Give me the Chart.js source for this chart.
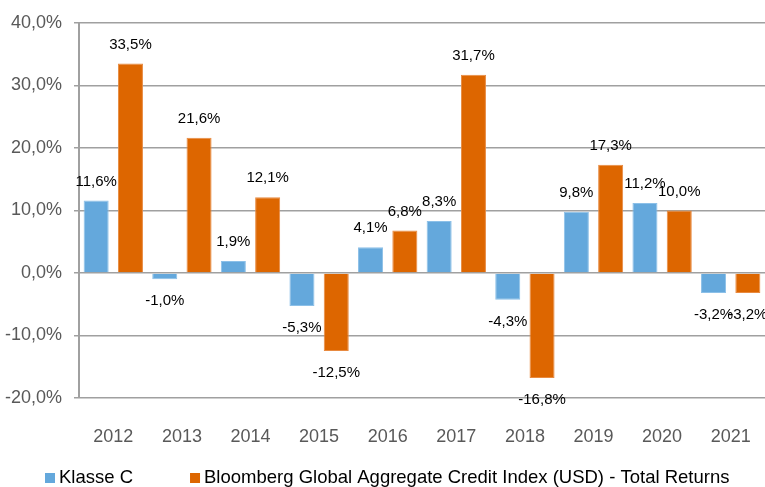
<!DOCTYPE html>
<html>
<head>
<meta charset="utf-8">
<script src="https://cdn.jsdelivr.net/npm/chart.js@4.4.0/dist/chart.umd.min.js"></script>
<style>
  html, body { margin: 0; padding: 0; background: #ffffff; }
  #wrap { width: 765px; height: 487px; }
</style>
</head>
<body>
<div id="wrap"><canvas id="chart"></canvas></div>
<script>
// chart values
const years = ['2012', '2013', '2014', '2015', '2016', '2017', '2018', '2019', '2020', '2021'];
const klasseC = [11.6, -1.0, 1.9, -5.3, 4.1, 8.3, -4.3, 9.8, 11.2, -3.2];
const bloomberg = [33.5, 21.6, 12.1, -12.5, 6.8, 31.7, -16.8, 17.3, 10.0, -3.2];
const seriesNames = ['Klasse C', 'Bloomberg Global Aggregate Credit Index (USD) - Total Returns'];
const seriesColors = ['#64a8dc', '#dd6600'];

function pct(v) {
    return v.toFixed(1).replace('.', ',') + '%';
}

// draws the value labels above / below every bar
const valueLabels = {
    id: 'valueLabels',
    afterDatasetsDraw(chart) {
        const ctx = chart.ctx;
        ctx.save();
        ctx.font = '15px "Liberation Sans", Arial, sans-serif';
        ctx.fillStyle = '#000000';
        ctx.textAlign = 'center';
        ctx.textBaseline = 'middle';
        chart.data.datasets.forEach((ds, i) => {
            const meta = chart.getDatasetMeta(i);
            meta.data.forEach((bar, j) => {
                const v = ds.data[j];
                const y = v >= 0 ? bar.y - 19 : bar.y + 22;
                ctx.fillText(pct(v), bar.x, y);
            });
        });
        ctx.restore();
    }
};

// simple legend row under the axis
const bottomLegend = {
    id: 'bottomLegend',
    afterDraw(chart) {
        const ctx = chart.ctx;
        const y = 478;
        let x = 45;
        ctx.save();
        ctx.font = '18.5px "Liberation Sans", Arial, sans-serif';
        ctx.textBaseline = 'middle';
        chart.data.datasets.forEach((ds, i) => {
            ctx.fillStyle = ds.backgroundColor;
            ctx.fillRect(x, y - 5, 10, 10);
            x += 14;
            ctx.fillStyle = '#000000';
            ctx.fillText(ds.label, x, y);
            x += ctx.measureText(ds.label).width + 57;
        });
        ctx.restore();
    }
};

const ctx = document.getElementById('chart').getContext('2d');
new Chart(ctx, {
    type: 'bar',
    data: {
        labels: years,
        datasets: [
            {
                label: seriesNames[0],
                data: klasseC,
                backgroundColor: seriesColors[0],
                borderColor: '#8cc0e8',
                borderWidth: 1,
                categoryPercentage: 1.0,
                barPercentage: 0.73
            },
            {
                label: seriesNames[1],
                data: bloomberg,
                backgroundColor: seriesColors[1],
                borderColor: '#e88a40',
                borderWidth: 1,
                categoryPercentage: 1.0,
                barPercentage: 0.73
            }
        ]
    },
    options: {
        responsive: true,
        maintainAspectRatio: false,
        animation: false,
        layout: { padding: { top: 12, right: 0, left: 0, bottom: 33 } },
        scales: {
            x: {
                grid: { display: false, drawTicks: false },
                border: { display: false },
                ticks: {
                    color: '#595959',
                    font: { family: '"Liberation Sans", Arial, sans-serif', size: 18 },
                    padding: 28
                },
                afterFit(scale) {
                    scale.height = 56;
                    scale.paddingLeft = 0;
                    scale.paddingRight = 0;
                }
            },
            y: {
                min: -20,
                max: 40,
                ticks: {
                    stepSize: 10,
                    color: '#595959',
                    font: { family: '"Liberation Sans", Arial, sans-serif', size: 18 },
                    padding: 12,
                    callback: v => pct(v)
                },
                grid: { color: '#a0a0a0', lineWidth: 1.5, tickLength: 5 },
                border: { color: '#a0a0a0', width: 2 },
                afterFit(scale) { scale.width = 79; }
            }
        },
        plugins: {
            legend: { display: false },
            tooltip: { enabled: false }
        }
    },
    plugins: [valueLabels, bottomLegend]
});
</script>
</body>
</html>
